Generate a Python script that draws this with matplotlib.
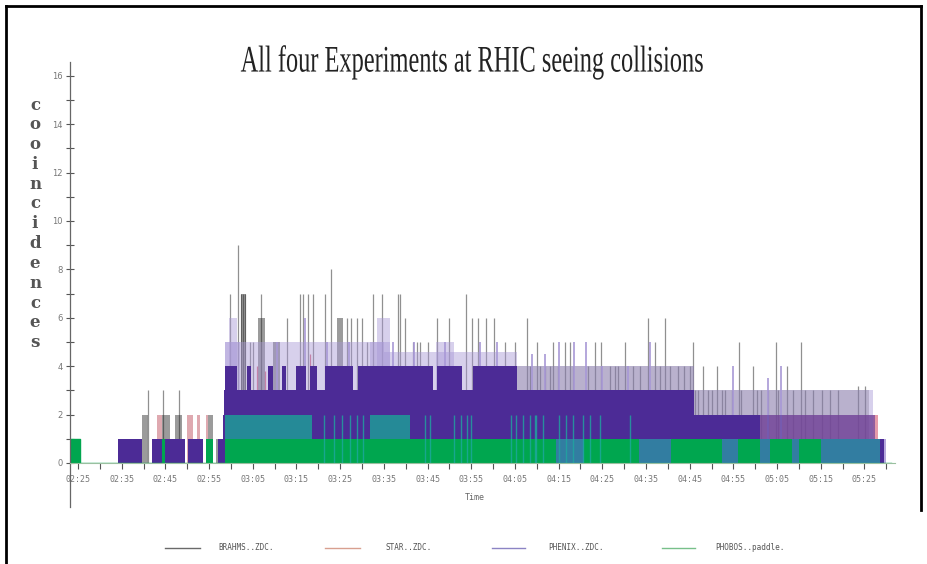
import matplotlib
matplotlib.use("Agg")
import matplotlib.pyplot as plt
from matplotlib.lines import Line2D
from matplotlib.patheffects import AbstractPathEffect
from matplotlib.transforms import Affine2D

# time axis: minutes after 02:25
tick_labels = ["02:25", "02:35", "02:45", "02:55", "03:05", "03:15", "03:25", "03:35",
               "03:45", "03:55", "04:05", "04:15", "04:25", "04:35", "04:45", "04:55",
               "05:05", "05:15", "05:25"]
series_names = ["BRAHMS..ZDC.", "STAR..ZDC.", "PHENIX..ZDC.", "PHOBOS..paddle."]

# BRAHMS ZDC: blocks (start, end, level) and single spikes
brahms_blocks = [(14.6, 16.1, 2), (19.2, 21.0, 2), (22.2, 23.7, 2), (29.8, 31.0, 2), (31.7, 32.4, 1),
                 (37.2, 38.4, 7), (41.2, 42.8, 6), (44.6, 46.2, 5), (59.2, 60.7, 6)]
brahms_haze = [(100.4, 141.0, 4), (141.0, 181.0, 3)]
brahms_t = [16.1, 19.4, 23.2,
            34.8, 36.7, 37.4, 37.8, 38.2, 39.4, 40.1, 42.0, 47.8, 50.8, 51.4, 52.7, 53.7, 56.5,
            58.0, 61.5, 62.6, 63.8, 64.9, 66.1, 67.6, 69.5, 73.3, 73.8, 74.8, 76.7, 77.5, 78.3,
            80.2, 82.1, 84.9, 88.9, 90.1, 91.6, 93.5, 95.2, 97.7, 100.0, 102.7, 105.0, 108.8,
            111.4, 112.6, 118.3, 119.8, 125.2, 130.5, 132.0, 134.3, 140.8, 151.3, 159.7, 165.4,
            103.4, 105.7, 106.9, 108.0, 109.9, 113.3, 116.8, 121.7, 122.9, 123.6, 127.1, 128.6,
            133.2, 135.5, 137.4, 138.6, 140.1, 143.1, 146.2, 154.4, 162.2,
            141.2, 141.9, 144.2, 145.0, 147.3, 148.1, 149.6, 151.8, 155.3, 156.4, 157.9, 160.2,
            163.7, 166.4, 168.3, 170.2, 172.1, 174.0, 178.6, 180.1]
brahms_h = [3, 3, 3,
            7, 9, 7, 7, 7, 5, 5, 7, 6, 7, 7, 7, 7, 7,
            8, 6, 6, 6, 6, 5, 7, 7, 7, 7, 6, 5, 5, 5,
            5, 6, 6, 7, 6, 6, 6, 6, 5, 5, 6, 5, 5,
            5, 5, 5, 5, 5, 6, 5, 6, 5, 5, 5, 5,
            4, 4, 4, 4, 4, 4, 4, 4, 4, 4, 4, 4,
            4, 4, 4, 4, 4, 4, 4, 4, 4,
            3, 3, 3, 3, 3, 3, 3, 3, 3, 3, 3, 3,
            3, 3, 3, 3, 3, 3, 3.2, 3.2]

# STAR ZDC
star_blocks = [(18.0, 19.2, 2), (24.9, 26.4, 2), (27.2, 27.9, 2), (29.4, 29.8, 2)]
star_haze = [(141.0, 183.0, 2)]
star_t = [40.9, 42.9, 53.0, 96.4, 124.5, 139.0]
star_h = [4, 3.8, 4.5, 4, 2, 2]

# PHENIX ZDC
phenix_blocks = [(9.2, 14.6, 1), (16.9, 24.5, 1), (25.2, 28.6, 1), (32.0, 33.2, 1),
                 (33.2, 156.0, 2), (156.0, 182.5, 1), (33.4, 141.0, 3),
                 (33.6, 36.3, 4), (38.6, 39.7, 4), (43.5, 44.7, 4), (46.6, 47.7, 4),
                 (50.0, 52.3, 4), (53.1, 54.6, 4), (56.5, 63.0, 4), (64.2, 81.3, 4),
                 (82.1, 87.8, 4), (90.4, 100.4, 4), (182.5, 184.4, 1)]
phenix_mixed = [(156.0, 182.5, 2)]
phenix_light = [(33.6, 70.0, 5), (70.0, 100.4, 4.6), (33.6, 37.0, 5), (66.8, 71.5, 5),
                (82.0, 86.0, 5), (34.5, 36.5, 6), (68.5, 71.5, 6), (100.4, 141.0, 4),
                (141.0, 182.0, 3)]
phenix_t = [45.5, 52.0, 57.0, 62.0, 72.0, 77.0, 84.0, 92.0, 96.0, 104.0, 107.0, 110.0,
            113.5, 116.2, 120.0, 126.0, 131.0, 150.0, 158.0, 161.0, 184.6]
phenix_h = [5, 6, 5, 5, 5, 5, 5, 5, 5, 4.5, 4.5, 5,
            5, 5, 4, 4, 5, 4, 3.5, 4, 1]

# PHOBOS paddle
phobos_blocks = [(-1.83, 0.5, 1), (19.2, 19.9, 1), (29.4, 31.0, 1),
                 (33.6, 109.5, 1), (115.8, 128.5, 1), (135.8, 147.5, 1), (151.0, 156.0, 1),
                 (158.5, 163.5, 1), (165.0, 170.0, 1)]
phobos_mixed = [(109.5, 115.8, 1), (128.5, 135.8, 1), (147.5, 151.0, 1), (156.0, 158.5, 1),
                (163.5, 165.0, 1), (170.0, 183.6, 1)]
phobos_teal = [(33.6, 53.5, 2), (66.8, 76.0, 2)]
phobos_t = [56.2, 58.5, 60.4, 62.3, 63.8, 65.3, 79.5, 80.6, 86.1, 87.6, 89.1, 89.9, 99.0,
            100.2, 101.9, 103.4, 104.5, 104.9, 106.4, 110.2, 111.8, 113.3, 115.6, 117.1,
            119.4, 126.3]
phobos_h = [2] * len(phobos_t)

c_brahms = "#222222"
c_star = "#d24c64"
c_phenix = "#4c2b96"
c_light = "#a898d6"
c_phobos = "#00a64f"


class Squeeze(AbstractPathEffect):
    def __init__(self, sx, cx):
        super().__init__()
        self.sx, self.cx = sx, cx

    def draw_path(self, renderer, gc, tpath, affine, rgbFace=None):
        t = affine + Affine2D().translate(-self.cx, 0).scale(self.sx, 1).translate(self.cx, 0)
        renderer.draw_path(gc, tpath, t, rgbFace)


def blocks(ax, segs, color, alpha=1.0, z=1):
    for t0, t1, lev in segs:
        ax.bar(t0, lev, width=t1 - t0, align="edge", color=color, lw=0, alpha=alpha, zorder=z)


fig = plt.figure(figsize=(9.27, 5.64), dpi=100)
W, H = 927, 564
ax = fig.add_axes([70 / W, 101 / H, 825 / W, 401 / H])

# BRAHMS
blocks(ax, brahms_blocks, "#8a8a8a", 0.85, z=1.0)
blocks(ax, brahms_haze, "#9a9a9a", 0.55, z=1.0)
ax.vlines(brahms_t, 0, brahms_h, color=c_brahms, lw=0.9, alpha=0.5, zorder=1.1)
# STAR
blocks(ax, star_blocks, "#dca0a8", 0.9, z=1.2)
blocks(ax, star_haze, c_star, 0.55, z=1.2)
ax.vlines(star_t, 0, star_h, color=c_star, lw=0.9, alpha=0.8, zorder=1.3)
# PHENIX
blocks(ax, phenix_light, c_light, 0.45, z=1.4)
ax.vlines(phenix_t, 0, phenix_h, color=c_light, lw=1.2, zorder=1.5)
blocks(ax, phenix_blocks, c_phenix, z=1.6)
blocks(ax, phenix_mixed, c_phenix, 0.55, z=1.6)
# PHOBOS
ax.plot([-1.83, 0.5, 0.5, 186], [1, 1, 0, 0], color=c_phobos, lw=1.0, zorder=1.7)
blocks(ax, phobos_teal, "#1f9c98", 0.85, z=1.75)
blocks(ax, phobos_blocks, c_phobos, z=1.8)
blocks(ax, phobos_mixed, "#2a9aa6", 0.75, z=1.8)
ax.vlines(phobos_t, 0, phobos_h, color="#1fa7a0", lw=1.0, alpha=0.8, zorder=1.9)

ax.set_xlim(-1.83, 187)
ax.set_ylim(0, 16.57)
for s in ["top", "right"]:
    ax.spines[s].set_visible(False)
ax.spines["left"].set_color("#666666")
ax.spines["bottom"].set_color("#9ac0a0")
ax.spines["left"].set_linewidth(0.9)
ax.plot([0, 0], [-0.11, 0], transform=ax.transAxes, color="#666666", lw=0.9, clip_on=False)

ax.set_yticks(range(0, 17, 2))
ax.set_yticks(range(1, 17, 2), minor=True)
ax.set_xticks([10 * i for i in range(len(tick_labels))])
ax.set_xticklabels(tick_labels)
ax.set_xticks([5 + 10 * i for i in range(len(tick_labels))], minor=True)
ax.tick_params(axis="y", which="both", direction="inout", length=6, width=0.8, color="#555555",
               labelsize=6, labelcolor="#777777", pad=2)
ax.tick_params(axis="x", which="both", direction="out", length=4, width=0.8, color="#555555",
               labelsize=6, labelcolor="#777777", pad=5)
for lab in ax.get_xticklabels():
    lab.set_family("DejaVu Sans Mono")

fig.text(475 / W, 1 - 497 / H, "Time", ha="center", va="center", fontsize=6,
         family="DejaVu Sans Mono", color="#666666")

fig.text(472 / W, 1 - 62 / H, "All four Experiments at RHIC seeing collisions", ha="center",
         va="center", fontsize=27, family="Liberation Serif", color="#222222",
         path_effects=[Squeeze(0.65, 472)])

for i, ch in enumerate("cooincidences"):
    fig.text(35 / W, 1 - (105 + i * 19.8) / H, ch, ha="center", va="center", fontsize=12,
             family="DejaVu Serif", weight="bold", color="#555555")

# legend
leg_colors = ["#6a6a6a", "#d8a090", "#8c84c4", "#78c08a"]
leg_x = [(165, 200), (325, 360), (492, 525), (662, 695)]
leg_tx = [218, 385, 548, 715]
for name, col, (x0, x1), tx in zip(series_names, leg_colors, leg_x, leg_tx):
    fig.add_artist(Line2D([x0 / W, x1 / W], [1 - 548 / H] * 2, color=col, lw=1.0))
    fig.text(tx / W, 1 - 548 / H, name, ha="left", va="center", fontsize=5.5,
             family="DejaVu Sans Mono", color="#555555")

# frame
fig.add_artist(Line2D([6 / W, 6 / W], [0, 1 - 6 / H], color="black", lw=2))
fig.add_artist(Line2D([6 / W, 921 / W], [1 - 6 / H] * 2, color="black", lw=2))
fig.add_artist(Line2D([921 / W, 921 / W], [1 - 6 / H, 1 - 510 / H], color="black", lw=2))

fig.savefig("out.png", dpi=100)
